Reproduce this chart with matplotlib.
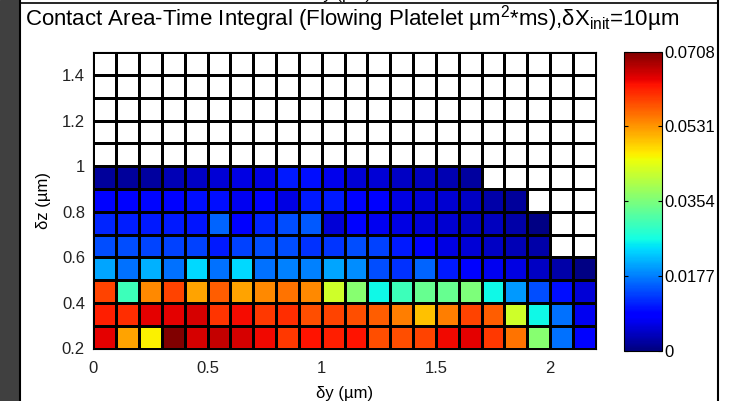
import numpy as np
import matplotlib
matplotlib.use("Agg")
import matplotlib.pyplot as plt
from matplotlib.lines import Line2D
from matplotlib.patches import Rectangle

# contact area-time integral per (dy, dz) cell, rows from dz=0.2 upward
row_02 = [0.0646, 0.0522, 0.0462, 0.0708, 0.0655, 0.0664, 0.0655, 0.0637, 0.0602, 0.0628, 0.0620,
          0.0628, 0.0584, 0.0584, 0.0593, 0.0637, 0.0646, 0.0602, 0.0558, 0.0363, 0.0168, 0.0089]
row_03 = [0.0620, 0.0611, 0.0646, 0.0646, 0.0655, 0.0605, 0.0634, 0.0602, 0.0609, 0.0584, 0.0593,
          0.0584, 0.0575, 0.0549, 0.0500, 0.0549, 0.0593, 0.0575, 0.0425, 0.0262, 0.0168, 0.0071]
row_04 = [0.0593, 0.0301, 0.0540, 0.0593, 0.0522, 0.0575, 0.0522, 0.0540, 0.0558, 0.0540, 0.0425,
          0.0363, 0.0262, 0.0301, 0.0336, 0.0336, 0.0354, 0.0262, 0.0195, 0.0142, 0.0097, 0.0053]
row_05 = [0.0204, 0.0168, 0.0212, 0.0168, 0.0239, 0.0168, 0.0239, 0.0168, 0.0177, 0.0177, 0.0204,
          0.0186, 0.0142, 0.0124, 0.0159, 0.0106, 0.0089, 0.0071, 0.0062, 0.0044, 0.0027, 0.0004]
row_06 = [0.0142, 0.0142, 0.0138, 0.0133, 0.0133, 0.0106, 0.0133, 0.0142, 0.0142, 0.0124, 0.0127,
          0.0142, 0.0133, 0.0106, 0.0089, 0.0062, 0.0053, 0.0044, 0.0035, 0.0027, np.nan, np.nan]
row_07 = [0.0115, 0.0110, 0.0106, 0.0106, 0.0103, 0.0159, 0.0081, 0.0115, 0.0142, 0.0150, 0.0053,
          0.0089, 0.0071, 0.0062, 0.0053, 0.0050, 0.0044, 0.0039, 0.0027, 0.0005, np.nan, np.nan]
row_08 = [0.0089, 0.0089, 0.0092, 0.0089, 0.0097, 0.0097, 0.0071, 0.0089, 0.0062, 0.0106, 0.0106,
          0.0089, 0.0080, 0.0062, 0.0053, 0.0050, 0.0044, 0.0027, 0.0018, np.nan, np.nan, np.nan]
row_09 = [0.0018, 0.0018, 0.0021, 0.0035, 0.0044, 0.0053, 0.0062, 0.0062, 0.0106, 0.0097, 0.0067,
          0.0053, 0.0053, 0.0044, 0.0039, 0.0032, 0.0021, np.nan, np.nan, np.nan, np.nan, np.nan]
n_empty_rows = 5  # dz 1.0 .. 1.5 have no data

x_edges = np.linspace(0, 2.2, 23)
y_edges = np.linspace(0.2, 1.5, 14)
vmax = 0.0708

xticks = [0, 0.5, 1, 1.5, 2]
xticklabels = ['0', '0.5', '1', '1.5', '2']
yticks = [0.2, 0.4, 0.6, 0.8, 1.0, 1.2, 1.4]
yticklabels = ['0.2', '0.4', '0.6', '0.8', '1', '1.2', '1.4']
cticks = [0, 0.0177, 0.0354, 0.0531, 0.0708]
cticklabels = ['0', '0.0177', '0.0354', '0.0531', '0.0708']

plt.rcParams['font.family'] = ['Liberation Sans', 'DejaVu Sans']
plt.rcParams['mathtext.fontset'] = 'custom'
plt.rcParams['mathtext.rm'] = 'Liberation Sans'
plt.rcParams['mathtext.it'] = 'Liberation Sans'

W, H = 733, 401
fig = plt.figure(figsize=(W / 100, H / 100), dpi=100, facecolor='white')

def fx(px):
    return px / W

def fy(py):
    return 1 - py / H

# screenshot frame bits
fig.patches.append(Rectangle((0, 0), fx(19), 1, transform=fig.transFigure, color='#404040', zorder=0))
fig.lines.append(Line2D([fx(20), fx(20)], [0, 1], transform=fig.transFigure, color='black', lw=1.5))
fig.lines.append(Line2D([fx(718), fx(718)], [0, 1], transform=fig.transFigure, color='black', lw=1.5))
fig.lines.append(Line2D([fx(20), fx(718)], [fy(2.5), fy(2.5)], transform=fig.transFigure, color='black', lw=1.2))
fig.text(fx(343), fy(-1), 'δy (µm)', ha='center', va='baseline', fontsize=12)

data = np.array([row_02, row_03, row_04, row_05, row_06, row_07, row_08, row_09]
                + [[np.nan] * 22] * n_empty_rows)
data = np.ma.masked_invalid(data)

cmap = plt.get_cmap('jet').copy()
cmap.set_bad('white')

ax = fig.add_axes([fx(93.3), fy(348.5), fx(595.8) - fx(93.3), fy(52.3) - fy(348.5)])
mesh = ax.pcolormesh(x_edges, y_edges, data, cmap=cmap, vmin=0, vmax=vmax,
                     edgecolors='black', linewidth=0.8)
ax.set_xlim(0, 2.2)
ax.set_ylim(0.2, 1.5)
ax.set_xticks(xticks)
ax.set_xticklabels(xticklabels)
ax.set_yticks(yticks)
ax.set_yticklabels(yticklabels)
ax.tick_params(direction='in', length=0, labelsize=12, pad=6, colors='#222222')
ax.tick_params(axis='x', pad=9)
for s in ax.spines.values():
    s.set_linewidth(0.8)
ax.set_xlabel('δy (µm)', fontsize=12, labelpad=7)
ax.set_ylabel('δz (µm)', fontsize=12, labelpad=8)

cax = fig.add_axes([fx(624), fy(350.7), fx(662) - fx(624), fy(51.7) - fy(350.7)])
cb = fig.colorbar(mesh, cax=cax)
cb.set_ticks(cticks)
cb.set_ticklabels(cticklabels)
cb.outline.set_linewidth(0.8)
cax.tick_params(direction='in', length=3, width=0.8, labelsize=12, pad=2, right=True, left=True)

fig.text(fx(25), fy(26), 'Contact Area-Time Integral (Flowing Platelet µm$^{2}$*ms),δX$_{\\mathrm{init}}$=10µm',
         ha='left', va='baseline', fontsize=16)

fig.savefig('out.png', dpi=100, facecolor='white')
